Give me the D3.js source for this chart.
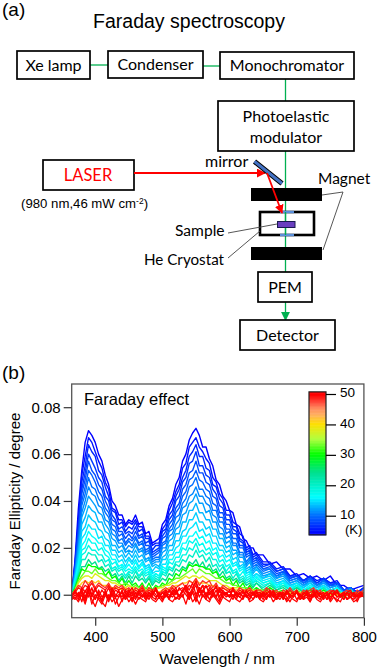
<!DOCTYPE html>
<html><head><meta charset="utf-8">
<script src="https://cdn.jsdelivr.net/npm/d3@7"></script>
<style>html,body{margin:0;padding:0;background:#fff}svg{display:block}
text{fill:#000}.d{font-family:Lato,"Noto Sans",sans-serif;font-size:16px}
.s{font-family:"Liberation Sans",Arial,sans-serif}</style></head><body>
<div id="chart"></div>
<script>
// wavelength grids (nm)
const waveCoarse=[365,370,375,380,385,390,395,400,405,410,415,420,425,430,435,440,445,450,455,460,465,470,475,480,485,490,495,500,505,510,515,520,525,530,535,540,545,550,555,560,565,570,575,580,585,590,595,600,605,610,615,620,625,630,635,640,650,660,670,680,690,700,710,720,730,740,750,760,770,780,790,800];
const waveFine=[365,370,375,380,385,390,395,400,405,410,415,420,425,430,435,440,445,450,455,460,465,470,475,480,485,490,495,500,505,510,515,520,525,530,535,540,545,550,555,560,565,570,575,580,585,590,595,600,605,610,615,620,625,630,635,640,645,650,655,660,665,670,675,680,685,690,695,700,705,710,715,720,725,730,735,740,745,750,755,760,765,770,775,780,785,790,795,800];
// Faraday ellipticity per temperature (millidegree)
const T04=[0,15,37,53,65,70,68,65,60,57,51,47,40,38,34,34,30,32,31,34,30,31,26,27,22,23,24,30,32,38,41,47,50,57,60,66,69,71,68,63,63,58,55,49,47,42,40,36,35,30,29,24,23,20,20,17,17,13,14,11,11,8,9,7,8,6,8,4,4,2,3,4];
const T05=[0,14,32,51,59,67,65,61,57,54,48,45,37,36,32,32,29,31,30,32,29,29,25,25,21,22,22,28,30,36,39,44,47,54,56,63,65,67,63,61,58,56,50,48,43,41,36,36,31,30,26,25,20,21,17,18,14,14,11,12,8,9,6,8,6,7,5,6,2,3,1,3];
const T06=[0,13,30,48,55,64,61,59,53,51,46,42,36,35,30,31,27,29,28,31,27,28,24,24,19,21,21,27,28,34,36,42,45,50,53,59,61,64,59,59,54,53,47,46,41,39,34,34,29,29,24,23,19,20,16,17,13,13,10,11,8,8,6,8,5,7,5,5,2,3,1,3];
const T07=[0,12,28,45,52,60,57,54,50,48,42,40,34,32,28,29,26,27,26,29,25,26,22,23,18,19,20,25,27,32,34,40,42,48,50,56,57,61,55,55,51,50,45,43,38,37,32,32,28,27,23,22,18,19,15,16,12,13,10,11,7,8,6,7,5,7,4,5,2,3,1,2];
const T08=[0,11,27,43,49,57,53,51,47,45,40,37,32,31,27,27,24,26,24,27,24,25,21,21,17,18,19,24,25,30,32,37,39,45,47,52,53,57,52,52,48,47,42,41,35,35,30,30,26,26,21,21,17,18,14,15,11,12,9,10,7,8,5,7,4,6,4,5,2,3,0,2];
const T09=[0,10,25,40,46,53,51,48,44,42,37,35,30,29,25,26,22,24,23,25,22,23,19,20,16,17,18,22,23,28,30,35,37,42,44,49,50,53,49,48,45,44,39,38,33,33,28,28,24,24,20,20,16,17,13,14,11,11,8,10,6,7,5,7,4,6,4,4,1,3,0,2];
const T10=[0,10,23,38,43,50,46,45,41,39,35,33,28,27,23,24,21,23,21,24,21,22,18,19,15,16,16,21,22,27,28,33,34,39,41,46,47,50,45,45,42,41,36,36,31,31,26,27,22,22,18,18,14,16,12,13,10,11,8,9,6,7,5,6,4,6,3,4,1,3,0,2];
const T11=[0,9,21,35,40,46,43,42,38,37,32,31,26,25,22,22,19,21,20,22,19,20,17,18,14,15,15,20,20,25,26,30,32,37,38,42,43,46,42,42,39,38,34,33,29,28,24,25,21,21,17,17,13,15,11,12,9,10,7,9,5,6,4,6,4,5,3,4,1,2,0,2];
const T12=[0,8,20,33,37,42,40,38,35,34,30,28,24,23,20,21,18,19,18,21,18,19,15,16,13,14,14,18,19,23,24,28,29,34,35,39,40,43,39,39,35,36,31,31,26,26,22,23,19,19,16,16,12,14,10,12,8,9,7,8,5,6,4,5,3,5,3,4,1,2,0,1];
const T13=[0,8,18,30,33,38,36,35,31,31,27,26,21,21,18,19,16,18,16,19,16,17,14,15,12,13,12,16,17,21,21,26,26,31,31,36,36,39,35,35,32,32,28,28,24,24,20,21,17,18,14,14,11,12,9,11,7,9,6,7,4,5,3,5,3,4,2,3,1,2,0,1];
const T14=[0,7,16,27,29,34,32,31,28,27,24,23,19,19,16,17,14,16,14,17,14,15,12,13,10,12,11,15,15,19,19,23,23,27,28,32,32,35,31,31,28,29,25,25,21,21,18,19,15,16,12,13,10,11,8,9,7,8,5,6,4,5,3,5,2,4,2,3,0,2,0,1];
const T15=[0,6,14,24,26,30,28,28,24,25,21,21,17,17,14,15,12,15,13,15,12,14,11,12,9,10,10,13,13,17,17,20,21,25,25,28,29,31,27,28,25,26,22,22,19,19,16,17,13,14,11,12,9,10,7,9,6,7,4,6,3,5,2,4,2,4,2,3,0,2,0,1];
const T16=[0,6,13,21,23,27,25,24,22,22,19,18,15,15,12,13,11,13,11,14,11,13,10,11,8,9,8,12,11,15,15,18,18,22,22,25,25,27,24,25,22,23,19,20,16,17,14,15,12,13,10,11,8,9,6,8,5,6,4,5,3,4,2,4,2,3,1,3,0,2,0,1];
const T17=[0,5,11,19,20,24,22,22,19,20,17,16,13,14,11,12,10,11,10,12,10,11,9,10,7,9,8,11,10,14,13,16,16,20,19,23,22,24,21,22,19,20,17,18,14,15,12,13,10,11,8,10,7,8,5,7,5,6,3,5,2,4,2,3,1,3,1,2,0,2,0,1];
const T18=[0,5,10,17,18,21,19,19,17,17,14,15,11,12,10,11,8,10,9,11,8,10,8,9,6,8,7,10,9,12,11,14,14,17,17,20,19,22,18,19,17,18,15,15,12,13,10,12,9,10,7,8,6,7,5,6,4,5,3,4,2,4,1,3,1,3,1,2,0,2,0,1];
const T20=[0,4,9,15,15,18,17,17,14,15,12,13,10,11,8,9,7,9,7,10,7,9,6,8,5,7,6,9,8,11,10,13,12,15,14,17,16,19,16,17,14,16,12,13,10,12,9,10,7,9,6,7,5,6,4,5,3,5,2,4,2,3,1,3,1,3,0,2,0,2,0,1];
const T24=[0,3,8,12,12,15,13,14,11,12,10,11,8,9,6,8,5,8,5,8,6,7,5,7,4,6,5,7,6,9,8,11,10,12,11,14,13,15,12,14,11,13,10,11,8,10,7,8,6,7,5,6,4,5,3,5,2,4,2,3,1,3,1,2,0,2,0,2,0,1,0,1];
const T30=[0,3,7,11,10,13,12,12,11,11,8,10,7,8,5,7,4,6,4,5,3,5,2,5,2,4,3,5,4,7,6,9,8,11,10,13,12,13,12,12,11,11,9,10,7,8,6,7,4,6,3,5,2,4,2,3,1,3,1,2,0,2,0,2,0,2,0,1,-1,1,0,1];
const T33=[0,2,6,8,10,10,9,11,9,9,8,7,6,6,5,4,5,4,3,4,3,3,3,3,2,3,3,4,4,5,6,7,7,8,9,10,11,9,11,10,9,9,8,7,7,6,5,5,4,4,3,3,3,2,2,2,2,1,1,1,1,1,1,1,0,1,1,0,0,0,0,1];
const T38=[0,2,5,7,8,8,7,9,8,7,6,6,5,5,4,4,3,4,3,3,2,3,2,2,2,2,3,3,4,4,5,5,6,7,8,7,8,8,7,8,7,6,6,6,5,4,4,3,3,3,3,2,2,2,2,1,1,1,1,1,1,1,1,0,0,1,0,1,0,0,1,0];
const T41=[0,1,3,5,6,5,6,5,6,4,4,4,3,3,3,2,3,2,2,2,1,2,1,2,1,2,1,2,2,3,3,4,4,5,5,6,5,6,5,5,5,4,4,3,3,3,2,3,2,2,2,1,2,1,1,1,1,1,0,1,0,1,0,0,1,0,0,0,1,0,0,0];
const red1=[0,2,4,3,6,4,6,3,5,4,3,5,2,4,3,4,2,3,1,3,2,4,1,3,2,3,0,2,3,2,4,3,4,5,3,6,5,7,4,6,5,6,3,5,2,4,3,2,3,1,3,2,2,3,1,2,2,1,3,2,1,2,0,2,1,3,1,2,0,2,1,2,3,1,2,0,1,2,1,2,0,1,2,1,0,2,1,2];
const red2=[0,1,3,2,4,3,5,2,4,3,2,4,1,3,2,3,1,2,0,2,1,3,0,2,1,2,-1,1,2,1,3,1,2,3,2,4,3,5,2,4,3,4,2,3,1,3,2,1,2,0,2,1,1,2,0,1,1,0,2,1,0,1,-1,1,0,2,0,1,-1,1,0,1,2,0,1,-1,0,1,0,1,-1,0,1,0,-1,1,0,1];
const red3=[-1,1,0,2,-2,3,-1,2,0,-2,1,-2,3,0,-1,2,-2,1,3,-1,0,2,-2,1,-1,3,0,-1,2,-2,1,3,-1,2,4,0,3,6,1,4,-1,3,1,4,-1,2,0,-1,3,-1,1,-1,2,-1,0,2,-2,1,0,-1,2,-1,1,-2,2,0,-1,2,-2,1,0,-1,2,-1,0,1,-2,1,2,-1,0,-2,1,2,-1,0,1,-1];
const red4=[-1,2,-1,3,1,4,0,3,-1,2,0,3,-1,2,1,-1,2,0,1,-1,2,0,-1,1,0,2,-1,1,0,-1,2,0,3,1,4,2,5,0,3,1,4,0,2,-1,3,1,0,2,-1,1,0,2,-1,1,0,-1,1,-1,0,2,-1,0,1,-2,1,0,-1,1,0,-2,1,0,-1,2,-1,0,1,-2,0,1,-1,0,-2,1,0,-1,1,0];
const red5=[-2,0,-2,1,-3,2,-4,0,-2,-4,0,-3,1,-4,-1,1,-2,0,-3,1,-2,0,-2,1,-1,-2,1,-2,0,-1,1,-2,0,-1,2,-2,1,-3,2,-1,1,-2,1,-1,-3,1,-1,0,-2,1,-1,-2,1,0,-2,1,-1,0,-2,1,-1,-2,0,1,-1,-3,0,1,-2,-1,0,-3,1,-1,-2,0,-2,1,-1,-3,0,1,-2,-1,1,-3,0,-1];
const red6=[-1,-2,1,-3,2,-1,3,-2,1,-3,2,-2,0,-1,2,-3,1,-1,0,-2,1,-1,0,-2,1,-1,0,-2,1,0,-1,1,-1,2,0,-2,2,-1,3,0,-2,1,-1,2,-2,0,1,-1,0,-2,1,-1,0,-2,1,-1,0,-2,1,-1,0,-2,1,-1,-2,0,1,-2,0,-1,1,-2,0,-1,1,-2,0,-2,1,-1,0,-2,1,-1,-2,0,-1,0];
const red7=[0,1,-1,2,-1,3,0,-2,2,-1,1,-2,2,-1,0,1,-1,2,-2,1,0,-1,1,-1,2,0,-1,1,-1,2,0,2,-1,1,3,-1,2,4,-1,2,-1,2,0,-1,2,-1,1,-1,2,0,-1,1,-1,0,1,-1,0,1,-1,0,1,-2,1,0,1,-1,0,1,-1,0,2,-1,0,1,-1,0,1,-1,0,2,-1,1,0,-1,1,-1,0,1];
const red8=[-2,-1,-3,0,-4,1,-2,-5,-1,-3,-5,0,-3,-1,-5,-2,0,-3,-1,-4,-1,-2,-3,0,-2,-3,-1,-3,0,-2,-3,-1,-2,0,-4,1,-3,-1,-4,0,-2,-3,0,-2,-4,-1,-2,-3,0,-2,-3,-1,0,-3,-2,0,-2,-3,-1,0,-3,-1,-2,0,-3,-1,-2,-3,0,-2,-1,-3,0,-2,-3,-1,0,-3,-1,-2,-3,0,-2,-1,-3,-2,0,-1];
const seriesCoarse=[[4,T04],[5,T05],[6,T06],[7,T07],[8,T08],[9,T09],[10,T10],[11,T11],[12,T12],[13,T13],[14,T14],[15,T15],[16,T16],[17,T17],[18,T18],[20,T20],[24,T24],[30,T30],[33,T33],[38,T38],[41,T41]];
const seriesFine=[[48,red1],[49,red2],[49.5,red3],[50,red4],[50,red5],[50,red6],[50,red7],[50,red8]];
const xTicks=[400,500,600,700,800];
const yTicks=[0,0.02,0.04,0.06,0.08];
const tempTicks=[10,20,30,40,50];
const colorStops=[4,10,16,24,30,35,40,43,45,47,49.5];
const colorValues=["#0000ff","#0070ff","#00ffff","#00e090","#00ff00","#b0ff40","#ffe000","#ffb060","#ff9060","#ff5040","#ff0000"];
// diagram parts: label, x, y, w, h
const boxes=[["Xe lamp",17,51,73,28],["Condenser",108,51,95,27],["Monochromator",220,52,134,27],["",218,101,136,50],["",43,160,91,30],["PEM",258,272,54,30],["Detector",240,320,95,30]];

const W=378,H=669;
const svg=d3.select("#chart").append("svg").attr("width",W).attr("height",H);
const defs=svg.append("defs");
function marker(id,c){defs.append("marker").attr("id",id).attr("markerUnits","userSpaceOnUse").attr("viewBox","0 0 10 10").attr("refX",9).attr("refY",5).attr("markerWidth",9).attr("markerHeight",9).attr("orient","auto").append("path").attr("d","M0,0L10,5L0,10Z").attr("fill",c);}
marker("mr","#f00");marker("mg","#00b050");
defs.append("clipPath").attr("id","plot").append("rect").attr("x",71.7).attr("y",384).attr("width",292.2).attr("height",233.7);

const G="#00b050";
const ln=(x1,y1,x2,y2,c,w,m)=>{const l=svg.append("line").attr("x1",x1).attr("y1",y1).attr("x2",x2).attr("y2",y2).attr("stroke",c).attr("stroke-width",w);if(m)l.attr("marker-end",`url(#${m})`);return l;};
const txt=(s,x,y,a,cl,fs,c)=>{const t=svg.append("text").attr("x",x).attr("y",y).attr("text-anchor",a||"start").attr("class",cl||"d").text(s);if(fs)t.style("font-size",fs+"px");if(c)t.style("fill",c);return t;};

txt("(a)",2,16,"start","s",19);
txt("Faraday spectroscopy",189,28,"middle","s",19.5);
ln(90,65,108,65,G,1.3);ln(203,66,220,66,G,1.3);
ln(285.5,79,285.5,101,G,1.3);ln(285.5,151,285.5,272,G,1.3);
ln(285.5,302,285.5,320,G,1.3,"mg");
boxes.forEach(b=>{svg.append("rect").attr("x",b[1]).attr("y",b[2]).attr("width",b[3]).attr("height",b[4]).attr("fill","#fff").attr("stroke","#000").attr("stroke-width",1.7);
 if(b[0])txt(b[0],b[1]+b[3]/2,b[2]+b[4]/2+5.5,"middle");});
txt("Photoelastic",286,122,"middle");txt("modulator",286,143,"middle");
txt("LASER",88,181,"middle","d",16.5,"#f00");
const cm=txt("(980 nm,46 mW cm",21,208,"start","s",13.2);
cm.append("tspan").attr("dy",-4).style("font-size","8.5px").text("-2");
cm.append("tspan").attr("dy",4).text(")");
txt("mirror",205,167,"start","d",16);
txt("Magnet",318,184,"start","d",15.5);
txt("Sample",175,236,"start","d",15.6);
txt("He Cryostat",144,265,"start","d",15.2);
svg.append("rect").attr("x",251).attr("y",188).attr("width",71).attr("height",13);
svg.append("rect").attr("x",251).attr("y",247).attr("width",71).attr("height",13);
svg.append("rect").attr("x",260).attr("y",212).attr("width",54).attr("height",23).attr("fill","none").attr("stroke","#000").attr("stroke-width",2.6);
ln(280,212,294,212,"#5b8fd8",2.4);ln(280,235,294,235,"#5b8fd8",2.4);
ln(285.5,212,285.5,235,G,1.3);
svg.append("rect").attr("x",277.5).attr("y",221.5).attr("width",17.5).attr("height",6).attr("fill","#6a3fc0").attr("stroke","#1a1a50").attr("stroke-width",1);
ln(322,195,343,192,"#444",0.9);ln(343,192,323,250,"#444",0.9);
ln(228,233,277,224,"#444",0.9);ln(228,258,260,231,"#444",0.9);
ln(134,173,265,173,"#f00",1.8,"mr");
ln(254.5,161.5,282,183.5,"#000",5);ln(254.5,161.5,282,183.5,"#4472c4",3);
ln(267,173,282,213,"#f00",1.8,"mr");

txt("(b)",2,379,"start","s",19);

const x=d3.scaleLinear().domain([365,800]).range([71.7,363.9]);
const y=d3.scaleLinear().domain([-0.0098,0.0899]).range([617.7,384]);
const color=d3.scaleLinear().domain(colorStops).range(colorValues).clamp(true);
const line=g=>d3.line().x((d,i)=>x(g[i])).y(d=>y(d*0.001));
const curves=svg.append("g").attr("clip-path","url(#plot)").attr("fill","none").attr("stroke-linejoin","round");
seriesCoarse.forEach(([t,v])=>curves.append("path").attr("d",line(waveCoarse)(v)).attr("stroke",color(t)).attr("stroke-width",1.4));
seriesFine.forEach(([t,v])=>curves.append("path").attr("d",line(waveFine)(v)).attr("stroke",color(t)).attr("stroke-width",1.3));

svg.append("rect").attr("x",71.7).attr("y",384).attr("width",292.2).attr("height",233.7).attr("fill","none").attr("stroke","#555").attr("stroke-width",1.3);
const ax=svg.append("g").attr("transform","translate(0,617.7)").call(d3.axisBottom(x).tickValues(xTicks).tickSize(8).tickSizeOuter(0).tickPadding(6).tickFormat(d3.format("d")));
const ay=svg.append("g").attr("transform","translate(71.7,0)").call(d3.axisLeft(y).tickValues(yTicks).tickSize(8).tickSizeOuter(0).tickPadding(3).tickFormat(d3.format(".2f")));
[ax,ay].forEach(a=>{a.select(".domain").remove();a.selectAll("line").attr("stroke","#333").attr("stroke-width",1.2);a.selectAll("text").attr("class","s").style("font-size","15px").attr("fill","#000");});
txt("Faraday effect",84,405,"start","s",16.5);
txt("Wavelength / nm",217,664,"middle","s",15.5);
txt("Faraday Ellipticity / degree",0,0,"middle","s",15).attr("transform","translate(20,501) rotate(-90)");

const tY=d3.scaleLinear().domain([50,10]).range([394,515.7]);
const cells=d3.range(3.7,50.7,0.5);
const cb=svg.append("g");
cb.selectAll("rect").data(cells).join("rect").attr("x",309).attr("width",17).attr("y",d=>tY(d+0.5)).attr("height",d=>tY(d)-tY(d+0.5)+0.5).attr("fill",d=>color(d));
cb.append("rect").attr("x",309).attr("y",tY(50.7)).attr("width",17).attr("height",tY(3.7)-tY(50.7)).attr("fill","none").attr("stroke","#222").attr("stroke-width",1.2);
const at=svg.append("g").attr("transform","translate(326,0)").call(d3.axisRight(tY).tickValues(tempTicks).tickSize(10).tickSizeOuter(0).tickPadding(4));
at.select(".domain").remove();at.selectAll("line").attr("stroke","#000").attr("stroke-width",1.2);
at.selectAll("text").attr("class","s").style("font-size","13.5px").attr("fill","#000").attr("dy","0.2em");
txt("(K)",345,534,"start","s",13);
</script></body></html>
